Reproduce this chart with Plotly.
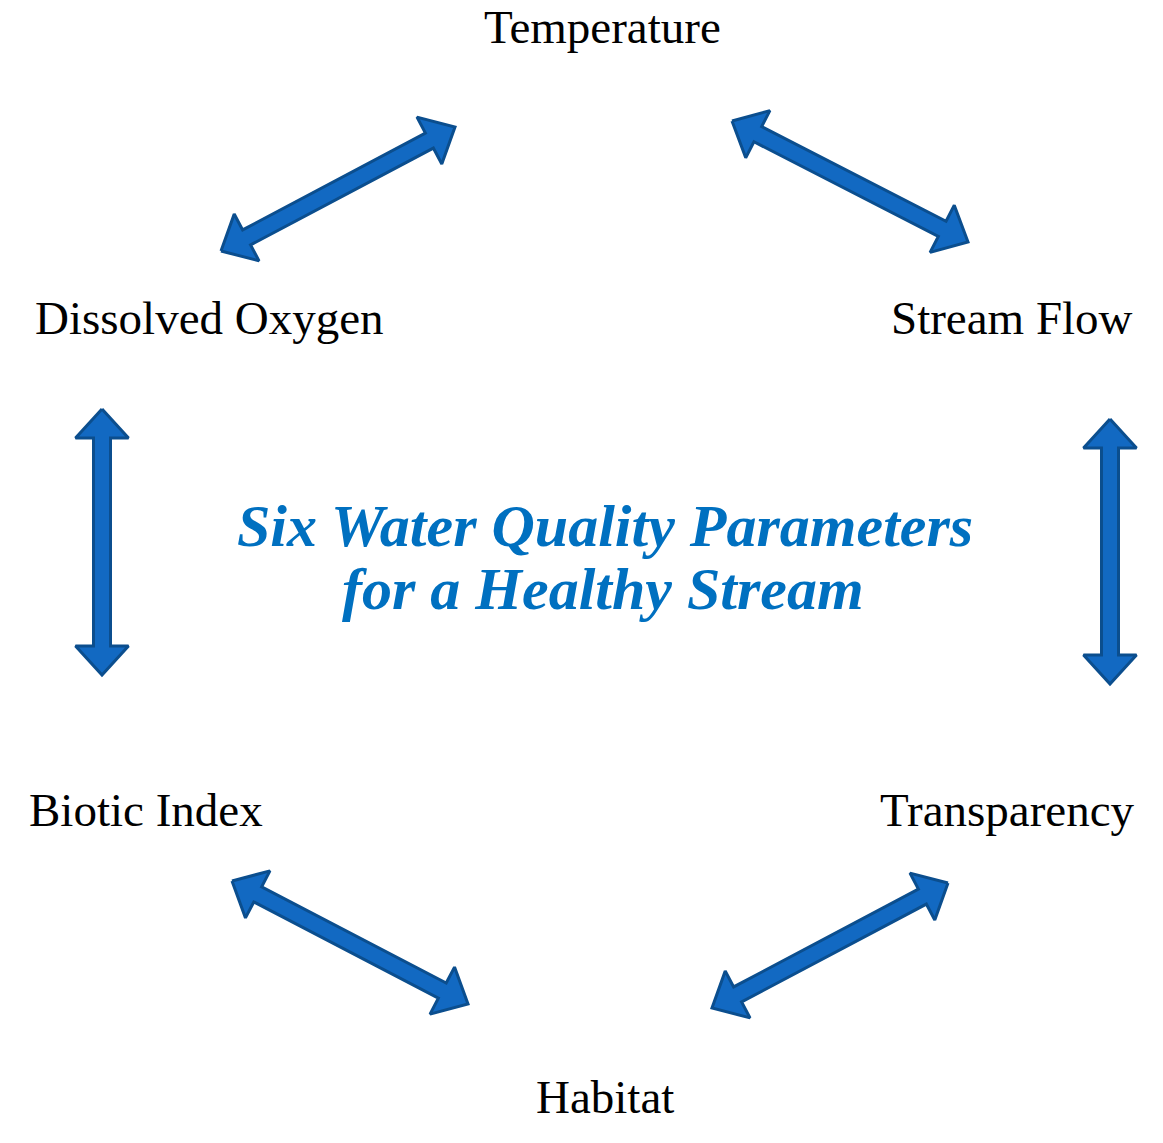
import numpy as np
import plotly.graph_objects as go

W, H = 1163, 1143

# Node labels (the six parameters)
labels = ["Temperature", "Stream Flow", "Transparency", "Habitat", "Biotic Index", "Dissolved Oxygen"]
label_x = [602, 1012, 1007, 605, 146, 209]
label_y = [0, 318, 810, 1097, 810, 318]
label_anchor = ["top", "middle", "middle", "middle", "middle", "middle"]

title_lines = ["Six Water Quality Parameters", "for a Healthy Stream"]
title_x = [605, 603]
title_y = [526, 589]

# Double arrows: (x0, y0) -> (x1, y1) tip to tip
arrow_x0 = [221, 732, 1110, 948, 232, 102]
arrow_y0 = [251, 121, 419, 883, 881, 409]
arrow_x1 = [455, 968, 1110, 712, 468, 102]
arrow_y1 = [127, 242, 684, 1008, 1004, 675]

FILL = "#1269C2"
EDGE = "#0B4E8E"

fig = go.Figure()

def arrow_poly(x0, y0, x1, y1, w=8.5, h=26.5, L=29):
    p0 = np.array([x0, y0], float)
    p1 = np.array([x1, y1], float)
    u = (p1 - p0) / np.linalg.norm(p1 - p0)
    n = np.array([-u[1], u[0]])
    pts = [
        p0,
        p0 + u * L + n * h,
        p0 + u * L + n * w,
        p1 - u * L + n * w,
        p1 - u * L + n * h,
        p1,
        p1 - u * L - n * h,
        p1 - u * L - n * w,
        p0 + u * L - n * w,
        p0 + u * L - n * h,
        p0,
    ]
    pts = np.array(pts)
    return pts[:, 0], pts[:, 1]

for x0, y0, x1, y1 in zip(arrow_x0, arrow_y0, arrow_x1, arrow_y1):
    xs, ys = arrow_poly(x0, y0, x1, y1)
    fig.add_trace(go.Scatter(x=xs, y=ys, mode="lines", fill="toself",
                             fillcolor=FILL, line=dict(color=EDGE, width=3, shape="linear"),
                             hoverinfo="skip", showlegend=False))

for t, x, y, ya in zip(labels, label_x, label_y, label_anchor):
    fig.add_annotation(x=x, y=y, text=t, showarrow=False, xanchor="center", yanchor=ya,
                       borderpad=0,
                       font=dict(family="Liberation Serif", size=47, color="#000000"))

for t, x, y in zip(title_lines, title_x, title_y):
    fig.add_annotation(x=x, y=y, text="<b><i>" + t + "</i></b>", showarrow=False,
                       xanchor="center", yanchor="middle",
                       font=dict(family="Liberation Serif", size=60, color="#0070C0"))

fig.update_layout(
    width=W, height=H, margin=dict(l=0, r=0, t=0, b=0),
    paper_bgcolor="white", plot_bgcolor="white",
    xaxis=dict(range=[0, W], visible=False, fixedrange=True),
    yaxis=dict(range=[H, 0], visible=False, fixedrange=True),
)

fig.write_html("out.html",
               config={"displayModeBar": False, "staticPlot": True},
               post_script="document.body.style.margin='0';document.body.style.overflow='hidden';")
